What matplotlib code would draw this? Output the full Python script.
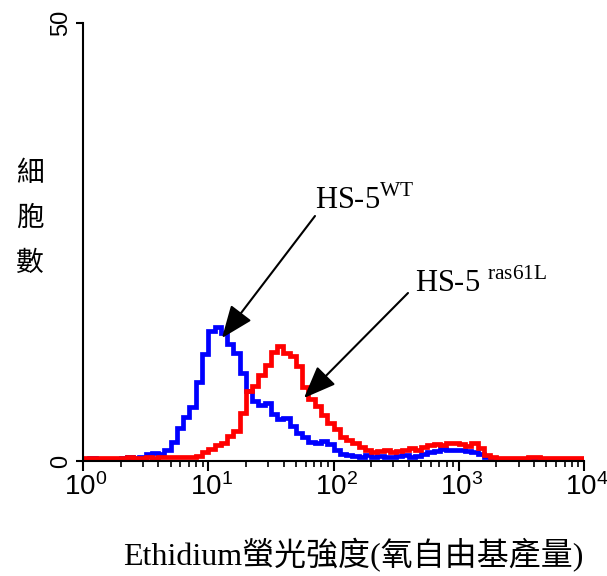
import numpy as np
import matplotlib
matplotlib.use("Agg")
import matplotlib.pyplot as plt
import matplotlib.transforms as mtransforms
from matplotlib.ticker import FixedLocator, NullFormatter

plt.rcParams['font.family'] = ['Liberation Serif', 'Noto Sans CJK TC', 'DejaVu Sans']
plt.rcParams['mathtext.fontset'] = 'custom'
plt.rcParams['mathtext.rm'] = 'Liberation Serif'

# histogram counts, 80 channels spanning 10^0 .. 10^4 (0.05 decade each)
wt_counts = [0.2, 0.3, 0.2, 0.1, 0.2, 0.2, 0.3, 0.4, 0.3, 0.5,
             0.8, 0.9, 0.8, 1.2, 2.2, 3.8, 5.0, 6.2, 9.0, 12.2,
             14.8, 15.3, 14.6, 13.4, 12.3, 10.0, 8.0, 6.9, 6.4, 6.6,
             5.4, 4.8, 4.9, 4.0, 3.2, 2.7, 2.2, 2.1, 2.3, 1.9,
             1.2, 0.8, 0.7, 0.6, 0.5, 0.7, 0.5, 0.6, 0.4, 0.5,
             0.6, 0.7, 0.5, 0.6, 0.8, 1.0, 1.1, 1.4, 1.3, 1.2,
             1.3, 1.1, 1.0, 0.8, 0.4, 0.2, 0.1, 0.1, 0.0, 0.1,
             0.1, 0.0, 0.1, 0.0, 0.1, 0.1, 0.0, 0.1, 0.0, 0.1]
ras_counts = [0.3, 0.3, 0.3, 0.3, 0.3, 0.3, 0.3, 0.4, 0.3, 0.3,
              0.4, 0.3, 0.4, 0.5, 0.4, 0.5, 0.5, 0.5, 0.6, 1.0,
              1.4, 1.8, 2.1, 2.9, 3.4, 5.5, 8.0, 8.6, 9.8, 11.0,
              12.4, 13.1, 12.3, 12.0, 10.8, 8.4, 7.1, 6.3, 5.3, 4.3,
              3.6, 2.7, 2.4, 2.1, 1.6, 1.3, 1.0, 1.1, 1.2, 1.0,
              1.1, 1.2, 1.5, 1.3, 1.6, 1.8, 1.9, 1.8, 2.0, 2.1,
              1.9, 1.7, 2.1, 1.5, 0.7, 0.4, 0.3, 0.3, 0.3, 0.3,
              0.3, 0.4, 0.5, 0.3, 0.3, 0.3, 0.3, 0.3, 0.3, 0.3]

x_ticks = [1, 10, 100, 1000, 10000]
x_ticklabels = [r'$\mathregular{10^{0}}$', r'$\mathregular{10^{1}}$', r'$\mathregular{10^{2}}$',
                r'$\mathregular{10^{3}}$', r'$\mathregular{10^{4}}$']
y_ticks = [0, 50]
y_ticklabels = ['0', '50']

edges = np.logspace(0, 4, len(wt_counts) + 1)

W, H = 607, 576
fig = plt.figure(figsize=(6.07, 5.76), dpi=100)
ax = fig.add_axes([83/W, 1 - 461/H, (584-83)/W, (461-23)/H])

ax.stairs(wt_counts, edges, color='#0000ff', lw=3.4, baseline=None)
ax.stairs(ras_counts, edges, color='#ff0000', lw=3.4, baseline=None)

ax.set_xscale('log')
ax.set_xlim(1, 10000)
ax.set_ylim(0, 50)

for s in ['top', 'right']:
    ax.spines[s].set_visible(False)
for s in ['left', 'bottom']:
    ax.spines[s].set_linewidth(1.5)

ax.xaxis.set_major_locator(FixedLocator(x_ticks))
ax.set_xticklabels(x_ticklabels, fontfamily='Liberation Sans', fontsize=20)
minor = [m * 10**d for d in range(4) for m in range(2, 10)]
ax.xaxis.set_minor_locator(FixedLocator(minor))
ax.xaxis.set_minor_formatter(NullFormatter())
ax.tick_params(axis='x', which='major', direction='out', length=7, width=1.5, pad=2)
ax.tick_params(axis='x', which='minor', direction='out', length=4, width=1.2)
offset = mtransforms.ScaledTranslation(3/100, 0, fig.dpi_scale_trans)
for lab in ax.get_xticklabels():
    lab.set_transform(lab.get_transform() + offset)

ax.set_yticks(y_ticks)
ax.set_yticklabels(y_ticklabels, fontfamily='Liberation Sans', fontsize=17, rotation=90, va='center')
ax.tick_params(axis='y', which='major', direction='out', length=5, width=1.5, pad=3)

# annotations: text placed, arrows drawn separately
fig.text(315/W, 1 - 209/H, r'HS-5$^{\mathrm{WT}}$', fontsize=22, ha='left', va='baseline')
fig.text(415/W, 1 - 292/H, r'HS-5 $^{\mathrm{ras61L}}$', fontsize=22, ha='left', va='baseline')

arrow_kw = dict(arrowstyle='-|>,head_length=1.0,head_width=0.4', color='black', lw=1.5,
                shrinkA=0, shrinkB=0, mutation_scale=20)
ax.annotate('', xy=(10**((222-83)/125.25), (461-338)/8.76),
            xytext=(315/W, 1 - 216/H), textcoords='figure fraction', arrowprops=arrow_kw)
ax.annotate('', xy=(10**((304-83)/125.25), (461-398)/8.76),
            xytext=(408/W, 1 - 293/H), textcoords='figure fraction', arrowprops=arrow_kw)

fig.text(30/W, 1 - 218/H, '細\n胞\n數', fontsize=20, ha='center', va='center',
         linespacing=1.65, family=['Noto Sans CJK TC'])
fig.text(353/W, 1 - 555/H, 'Ethidium螢光強度(氧自由基產量)', fontsize=23, ha='center', va='center',
         family=['Liberation Serif', 'Noto Sans CJK TC'])

fig.savefig('out.png', dpi=100)
